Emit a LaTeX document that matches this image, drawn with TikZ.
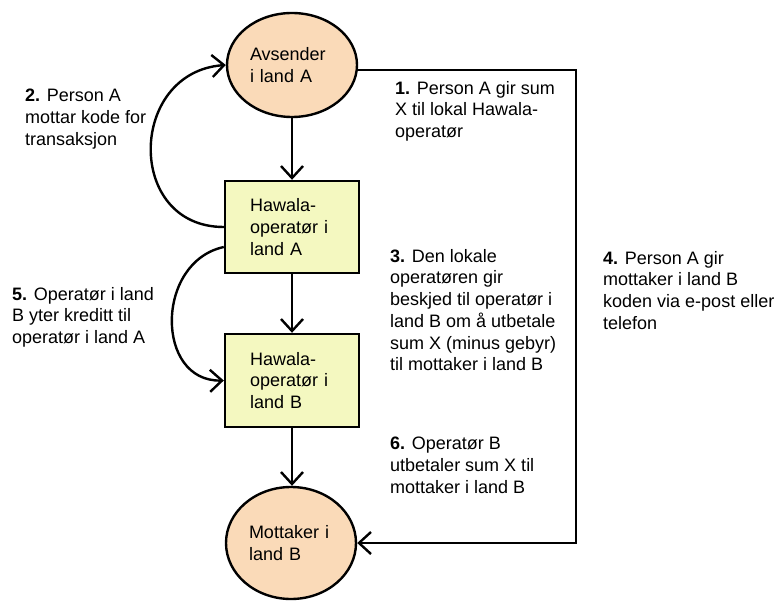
\documentclass[tikz,border=0pt]{standalone}
\usepackage{fontspec}
\setmainfont{Liberation Sans}
\usetikzlibrary{arrows.meta,shapes.geometric}

\definecolor{partyfill}{RGB}{250,218,184}
\definecolor{operatorfill}{RGB}{244,248,192}

\tikzset{
  party/.style={ellipse, draw=black, line width=2.4pt, fill=partyfill,
    inner sep=0pt, align=left, text width=84pt},
  operator/.style={rectangle, draw=black, line width=2.4pt, fill=operatorfill,
    inner sep=0pt, align=left, text width=84pt},
  flow/.style={line width=2.4pt, -{Straight Barb[length=12pt,width=22pt]}},
  note/.style={anchor=north west, inner sep=0pt, align=left}
}

\begin{document}
\begin{tikzpicture}[x=1pt, y=-1pt, font=\fontsize{18}{21.7}\selectfont]
  \useasboundingbox (0,0) rectangle (778,601);

  % parties and operators
  \node[party, minimum width=130pt, minimum height=104pt] (A) at (292,65)
    {Avsender\\i land A};
  \node[operator, minimum width=134pt, minimum height=92pt] (HA) at (292,227)
    {Hawala-\\operatør i\\land A};
  \node[operator, minimum width=134pt, minimum height=93pt] (HB) at (292,380.5)
    {Hawala-\\operatør i\\land B};
  \node[party, minimum width=130pt, minimum height=112pt] (B) at (291,543)
    {Mottaker i\\land B};

  % main chain
  \draw[flow] (A.south) -- (HA.north);
  \draw[flow] (HA.south) -- (HB.north);
  \draw[flow] (HB.south) -- (HB.south |- B.north);

  % code sent back to the sender
  \draw[flow] ([yshift=0pt]HA.west) .. controls (125,227) and (128,72) .. (A.west);

  % credit between operators
  \draw[flow] ([yshift=-20pt]HA.west) .. controls (155,262) and (155,382) .. (HB.west);

  % code passed directly to the receiver
  \coordinate (rail) at (576,0);
  \draw[flow] ([yshift=-5pt]A.east) -| (rail |- B.east) -- (B.east);

  % step descriptions
  \node[note] (n1) at (395,81)
    {\textbf{1.} Person A gir sum\\X til lokal Hawala-\\operatør};
  \node[note] (n2) at (25,89)
    {\textbf{2.} Person A\\mottar kode for\\transaksjon};
  \node[note] (n3) at (390,249)
    {\textbf{3.} Den lokale\\operatøren gir\\beskjed til operatør i\\land B om å utbetale\\sum X (minus gebyr)\\til mottaker i land B};
  \node[note] (n4) at (603,251)
    {\textbf{4.} Person A gir\\mottaker i land B\\koden via e-post eller\\telefon};
  \node[note] (n5) at (12,287)
    {\textbf{5.} Operatør i land\\B yter kreditt til\\operatør i land A};
  \node[note] (n6) at (390,437)
    {\textbf{6.} Operatør B\\utbetaler sum X til\\mottaker i land B};
\end{tikzpicture}
\end{document}
